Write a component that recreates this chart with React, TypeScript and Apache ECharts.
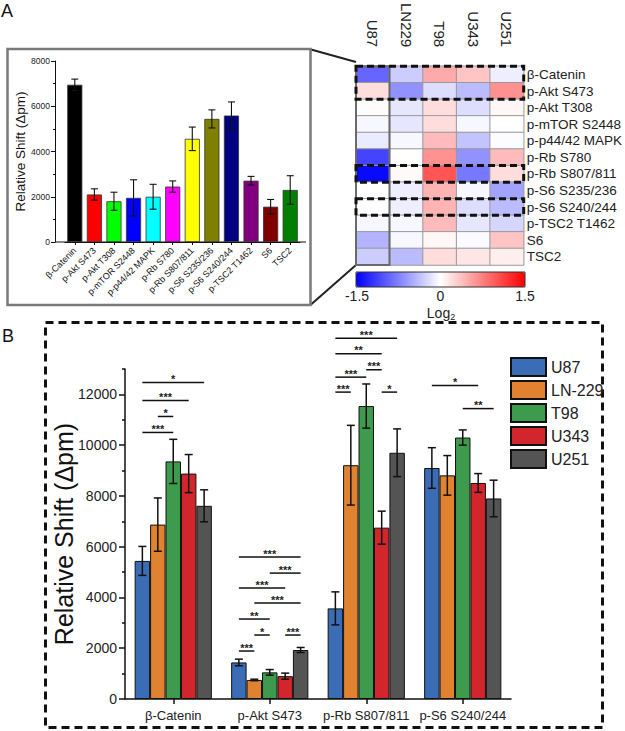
import React, { useEffect, useRef } from 'react';
import * as echarts from 'echarts';

// ---------- Panel A: inset bar chart ----------
const panelACategories = ['β-Catenin', 'p-Akt S473', 'p-Akt T308', 'p-mTOR S2448', 'p-p44/42 MAPK', 'p-Rb S780', 'p-Rb S807/811', 'p-S6 S235/236', 'p-S6 S240/244', 'p-TSC2 T1462', 'S6', 'TSC2'];
const panelAValues = [6950, 2100, 1800, 1950, 2000, 2450, 4560, 5440, 5590, 2710, 1560, 2300];
const panelAErrors = [250, 250, 400, 800, 550, 250, 520, 400, 600, 190, 320, 630];
const panelAColors = ['#000000', '#ff0000', '#00ff00', '#0000ff', '#00ffff', '#ff00ff', '#ffff00', '#808000', '#000080', '#800080', '#800000', '#008000'];

// ---------- Panel A: heatmap (log2) ----------
const heatColumns = ['U87', 'LN229', 'T98', 'U343', 'U251'];
const heatRows = ['β-Catenin', 'p-Akt S473', 'p-Akt T308', 'p-mTOR S2448', 'p-p44/42 MAPK', 'p-Rb S780', 'p-Rb S807/811', 'p-S6 S235/236', 'p-S6 S240/244', 'p-TSC2 T1462', 'S6', 'TSC2'];
const heatU87 = [-0.9, 0.2, 0.02, -0.05, -0.12, -1.1, -1.45, 0.0, 0.0, -0.05, -0.45, -0.3];
const heatLN229 = [-0.3, -0.65, -0.15, -0.15, -0.05, 0.0, 0.03, -0.1, -0.1, -0.05, -0.05, -0.4];
const heatT98 = [0.5, -0.2, 0.2, 0.2, 0.4, 0.65, 1.0, 0.45, 0.45, 0.4, 0.05, 0.2];
const heatU343 = [0.35, -0.4, -0.2, -0.05, -0.35, -0.65, -0.8, -0.05, -0.2, -0.15, -0.03, 0.15];
const heatU251 = [-0.1, 0.65, 0.05, 0.0, -0.02, 0.4, 0.2, -0.55, -0.4, -0.25, 0.35, 0.1];
const heatMin = -1.5;
const heatMax = 1.5;
const heatScaleLabels = ['-1.5', '0', '1.5'];
const heatHighlightRows = [[0, 1], [6, 6], [8, 8]];
const heatHighlightColumn = 0;

// ---------- Panel B ----------
const panelBCategories = ['β-Catenin', 'p-Akt S473', 'p-Rb S807/811', 'p-S6 S240/244'];
const cellLines = ['U87', 'LN-229', 'T98', 'U343', 'U251'];
const cellColors = ['#3b6db6', '#e0822f', '#3e9a4d', '#d2262c', '#545454'];
const u87Means = [5440, 1440, 3570, 9100];
const u87Errors = [570, 130, 650, 800];
const ln229Means = [6870, 750, 9210, 8810];
const ln229Errors = [1050, 30, 1570, 780];
const t98Means = [9360, 1050, 11540, 10300];
const t98Errors = [870, 110, 870, 300];
const u343Means = [8880, 900, 6750, 8510];
const u343Errors = [750, 120, 650, 370];
const u251Means = [7610, 1930, 9700, 7900];
const u251Errors = [630, 100, 940, 720];
const panelBMajorTicks = [0, 2000, 4000, 6000, 8000, 10000, 12000];
const panelBMinorTicks = [1000, 3000, 5000, 7000, 9000, 11000, 13000];

// significance brackets: group, from-line index, to-line index, level, stars
const sigGroup = [0, 0, 0, 0, 1, 1, 1, 1, 1, 1, 1, 1, 2, 2, 2, 2, 2, 2, 3, 3];
const sigFrom = [0, 0, 1, 0, 0, 2, 0, 1, 0, 1, 3, 0, 0, 0, 2, 0, 0, 3, 0, 2];
const sigTo = [4, 3, 2, 2, 4, 4, 3, 4, 2, 2, 4, 1, 4, 3, 3, 2, 1, 4, 3, 4];
const sigLevel = [12470, 11760, 11130, 10500, 5590, 4960, 4370, 3780, 3150, 2520, 2520, 1890, 14210, 13600, 12970, 12680, 12090, 12090, 12350, 11440];
const sigStars = ['*', '***', '*', '***', '***', '***', '***', '***', '**', '*', '***', '***', '***', '**', '***', '***', '***', '*', '*', '**'];

const FONT = '"Liberation Sans", Arial, Helvetica, sans-serif';
const plain = (v: number) => String(v);

export default function App() {
  const ref = useRef<HTMLDivElement>(null);

  useEffect(() => {
    if (!ref.current) return;
    const chart = echarts.init(ref.current, undefined, { renderer: 'svg' });

    const heatCols = [heatU87, heatLN229, heatT98, heatU343, heatU251];
    const heatData: number[][] = [];
    heatCols.forEach((col, c) => col.forEach((v, r) => heatData.push([c, r, v])));

    const boxData: number[][] = [[heatHighlightColumn, 0, heatHighlightColumn, heatRows.length - 1, 1]];
    heatHighlightRows.forEach(([r0, r1]) => boxData.push([0, r0, heatColumns.length - 1, r1, 0]));

    const meansB = [u87Means, ln229Means, t98Means, u343Means, u251Means];
    const errsB = [u87Errors, ln229Errors, t98Errors, u343Errors, u251Errors];
    const errBData: number[][] = [];
    meansB.forEach((m, k) => m.forEach((v, c) => errBData.push([c, v, errsB[k][c], k])));

    const sigData = sigGroup.map((g, i) => [g, sigLevel[i], sigFrom[i], sigTo[i]]);

    const errStyle = { stroke: '#111', lineWidth: 1.5 };

    const barSeriesB = cellLines.map((name, k) => ({
      name,
      type: 'bar',
      xAxisIndex: 2,
      yAxisIndex: 2,
      data: meansB[k],
      barGap: '0%',
      barCategoryGap: '20%',
      itemStyle: { color: cellColors[k], borderColor: '#111', borderWidth: 1 },
      emphasis: { disabled: true },
      z: 2,
    }));

    const option: any = {
      animation: false,
      textStyle: { fontFamily: FONT },
      grid: [
        { left: 65, top: 61, width: 235, height: 181 },
        { left: 356, top: 62, width: 169, height: 203 },
        { left: 125, top: 369, width: 386, height: 330 },
      ],
      xAxis: [
        {
          gridIndex: 0, type: 'category', data: panelACategories,
          axisLine: { show: true, lineStyle: { color: '#111', width: 1 } },
          axisTick: { show: true, alignWithLabel: true, length: 3, lineStyle: { color: '#111' } },
          axisLabel: { rotate: 45, fontSize: 9, color: '#111', margin: 7, interval: 0 },
        },
        {
          gridIndex: 1, type: 'category', data: heatColumns, position: 'top',
          axisLine: { show: false }, axisTick: { show: false },
          axisLabel: { rotate: 90, fontSize: 15, color: '#222', margin: 19, interval: 0 },
        },
        {
          gridIndex: 2, type: 'category', data: panelBCategories,
          axisLine: { show: true, lineStyle: { color: '#111', width: 1.5 } },
          axisTick: { show: true, alignWithLabel: true, length: 5, lineStyle: { color: '#111', width: 1.5 } },
          axisLabel: { fontSize: 13, color: '#222', margin: 10, interval: 0 },
        },
      ],
      yAxis: [
        {
          gridIndex: 0, type: 'value', min: 0, max: 8000, interval: 2000, offset: 10,
          axisLine: { show: true, lineStyle: { color: '#111', width: 1 } },
          axisTick: { show: true, length: 4, lineStyle: { color: '#111' } },
          minorTick: { show: true, splitNumber: 2, length: 2, lineStyle: { color: '#111' } },
          splitLine: { show: false },
          axisLabel: { fontSize: 8.5, color: '#222', margin: 5, formatter: plain },
          name: 'Relative Shift (Δpm)', nameLocation: 'middle', nameGap: 28, nameMoveOverlap: false,
          nameTextStyle: { fontSize: 13.5, color: '#111' },
        },
        {
          gridIndex: 1, type: 'category', data: heatRows, inverse: true, position: 'right',
          axisLine: { show: false }, axisTick: { show: false },
          axisLabel: { fontSize: 13.5, color: '#222', margin: 3, interval: 0 },
        },
        {
          gridIndex: 2, type: 'value', min: 0, max: 13000, interval: 2000, position: 'left',
          axisLine: { show: true, lineStyle: { color: '#111', width: 1.5 } },
          axisTick: { show: true, length: 6, customValues: panelBMajorTicks, lineStyle: { color: '#111', width: 1.5 } },
          axisLabel: { fontSize: 14, color: '#222', margin: 8, customValues: panelBMajorTicks, formatter: plain },
          splitLine: { show: false },
          name: 'Relative Shift (Δpm)', nameLocation: 'middle', nameGap: 49, nameMoveOverlap: false,
          nameTextStyle: { fontSize: 25, color: '#111' },
        },
        {
          gridIndex: 2, type: 'value', min: 0, max: 13000, position: 'left',
          axisLine: { show: false },
          axisTick: { show: true, length: 3, customValues: panelBMinorTicks, lineStyle: { color: '#111', width: 1.5 } },
          axisLabel: { show: false },
          splitLine: { show: false },
        },
      ],
      visualMap: {
        type: 'continuous', seriesIndex: 2, min: heatMin, max: heatMax,
        orient: 'horizontal', left: 356, top: 272, itemWidth: 15, itemHeight: 169,
        calculable: false, hoverLink: false, padding: 0,
        inRange: { color: ['#0000ff', '#ffffff', '#ff0000'] },
      },
      legend: {
        data: cellLines, orient: 'vertical', left: 510, top: 357,
        itemWidth: 35, itemHeight: 18, itemGap: 3, padding: 0, icon: 'rect',
        textStyle: { fontSize: 16, color: '#222', fontFamily: FONT },
        selectedMode: false,
      },
      series: [
        {
          name: 'A', type: 'bar', xAxisIndex: 0, yAxisIndex: 0,
          barCategoryGap: '23%',
          data: panelAValues.map((v, i) => ({ value: v, itemStyle: { color: panelAColors[i] } })),
          itemStyle: { borderColor: '#333', borderWidth: 0.8 },
          emphasis: { disabled: true },
        },
        {
          type: 'custom', xAxisIndex: 0, yAxisIndex: 0, clip: false, z: 5,
          data: panelAValues.map((v, i) => [i, v, panelAErrors[i]]),
          renderItem: (params: any, api: any) => {
            const cat = api.value(0), mean = api.value(1), err = api.value(2);
            const cx = api.coord([cat, mean])[0];
            const yTop = api.coord([cat, mean + err])[1];
            const yBot = api.coord([cat, mean - err])[1];
            const cap = 3.5;
            const st = { stroke: '#111', lineWidth: 1.1 };
            return {
              type: 'group', children: [
                { type: 'line', shape: { x1: cx, y1: yTop, x2: cx, y2: yBot }, style: st },
                { type: 'line', shape: { x1: cx - cap, y1: yTop, x2: cx + cap, y2: yTop }, style: st },
                { type: 'line', shape: { x1: cx - cap, y1: yBot, x2: cx + cap, y2: yBot }, style: st },
              ],
            };
          },
        },
        {
          name: 'heat', type: 'heatmap', xAxisIndex: 1, yAxisIndex: 1, data: heatData,
          itemStyle: { borderColor: '#9a9a9a', borderWidth: 1 },
          emphasis: { disabled: true },
        },
        {
          type: 'custom', xAxisIndex: 1, yAxisIndex: 1, clip: false, z: 6,
          data: boxData,
          renderItem: (params: any, api: any) => {
            const c0 = api.value(0), r0 = api.value(1), c1 = api.value(2), r1 = api.value(3), solid = api.value(4);
            const size = api.size([1, 1]);
            const a = api.coord([c0, r0]);
            const b = api.coord([c1, r1]);
            const x = Math.min(a[0], b[0]) - size[0] / 2;
            const y = Math.min(a[1], b[1]) - size[1] / 2;
            const w = Math.abs(b[0] - a[0]) + size[0];
            const h = Math.abs(b[1] - a[1]) + size[1];
            return {
              type: 'rect',
              shape: { x, y, width: w, height: h },
              style: solid
                ? { fill: 'none', stroke: '#6a6a6a', lineWidth: 2 }
                : { fill: 'none', stroke: '#111', lineWidth: 3, lineDash: [7, 4] },
            };
          },
        },
        ...barSeriesB,
        {
          type: 'custom', xAxisIndex: 2, yAxisIndex: 2, clip: false, z: 5,
          data: errBData,
          renderItem: (params: any, api: any) => {
            const cat = api.value(0), mean = api.value(1), err = api.value(2), k = api.value(3);
            const band = api.size([1, 0])[0];
            const bw = (band * 0.8) / cellLines.length;
            const cx = api.coord([cat, mean])[0] + (k - 2) * bw;
            const yTop = api.coord([cat, mean + err])[1];
            const yBot = api.coord([cat, mean - err])[1];
            const cap = 4;
            return {
              type: 'group', children: [
                { type: 'line', shape: { x1: cx, y1: yTop, x2: cx, y2: yBot }, style: errStyle },
                { type: 'line', shape: { x1: cx - cap, y1: yTop, x2: cx + cap, y2: yTop }, style: errStyle },
                { type: 'line', shape: { x1: cx - cap, y1: yBot, x2: cx + cap, y2: yBot }, style: errStyle },
              ],
            };
          },
        },
        {
          type: 'custom', xAxisIndex: 2, yAxisIndex: 2, clip: false, z: 5,
          data: sigData,
          renderItem: (params: any, api: any) => {
            const cat = api.value(0), level = api.value(1), from = api.value(2), to = api.value(3);
            const band = api.size([1, 0])[0];
            const bw = (band * 0.8) / cellLines.length;
            const p = api.coord([cat, level]);
            const x1 = p[0] + (from - 2) * bw;
            const x2 = p[0] + (to - 2) * bw;
            return {
              type: 'group', children: [
                { type: 'line', shape: { x1, y1: p[1], x2, y2: p[1] }, style: { stroke: '#111', lineWidth: 1.5 } },
                {
                  type: 'text', x: (x1 + x2) / 2, y: p[1] + 2,
                  style: { text: sigStars[params.dataIndex], fontSize: 11, fill: '#222', align: 'center', verticalAlign: 'bottom', fontFamily: FONT, fontWeight: 'bold' },
                },
              ],
            };
          },
        },
      ],
      graphic: [
        { type: 'text', left: 1, top: 2, style: { text: 'A', fontSize: 18, fill: '#111', fontFamily: FONT } },
        { type: 'text', left: 2, top: 327, style: { text: 'B', fontSize: 18, fill: '#111', fontFamily: FONT } },
        { type: 'rect', shape: { x: 7.5, y: 49, width: 303, height: 256 }, style: { fill: 'none', stroke: '#7a7a7a', lineWidth: 2.5 }, z: 1 },
        { type: 'line', shape: { x1: 55, y1: 242, x2: 306, y2: 242 }, style: { stroke: '#111', lineWidth: 1 } },
        { type: 'line', shape: { x1: 311, y1: 49.5, x2: 356, y2: 62 }, style: { stroke: '#222', lineWidth: 2 } },
        { type: 'line', shape: { x1: 311, y1: 304.5, x2: 356, y2: 265 }, style: { stroke: '#222', lineWidth: 2 } },
        { type: 'rect', shape: { x: 356, y: 272, width: 169, height: 15 }, style: { fill: 'none', stroke: '#333', lineWidth: 1 }, z: 10 },
        { type: 'text', x: 357, y: 289, style: { text: heatScaleLabels[0], fontSize: 14, fill: '#222', align: 'center', verticalAlign: 'top', fontFamily: FONT } },
        { type: 'text', x: 440.5, y: 289, style: { text: heatScaleLabels[1], fontSize: 14, fill: '#222', align: 'center', verticalAlign: 'top', fontFamily: FONT } },
        { type: 'text', x: 525, y: 289, style: { text: heatScaleLabels[2], fontSize: 14, fill: '#222', align: 'center', verticalAlign: 'top', fontFamily: FONT } },
        {
          type: 'text', x: 441, y: 304,
          style: {
            text: '{a|Log}{s|2}', align: 'center', verticalAlign: 'top', fill: '#222', fontFamily: FONT,
            rich: { a: { fontSize: 14, fill: '#222', fontFamily: FONT }, s: { fontSize: 9, fill: '#222', padding: [8, 0, 0, 0], fontFamily: FONT } },
          },
        },
        { type: 'rect', shape: { x: 45.5, y: 322.5, width: 557, height: 405 }, style: { fill: 'none', stroke: '#111', lineWidth: 3, lineDash: [8, 5] } },
      ],
    };

    chart.setOption(option);
    return () => chart.dispose();
  }, []);

  return <div ref={ref} style={{ position: 'absolute', left: 0, top: 0, width: 625, height: 731, background: '#fff' }} />;
}
